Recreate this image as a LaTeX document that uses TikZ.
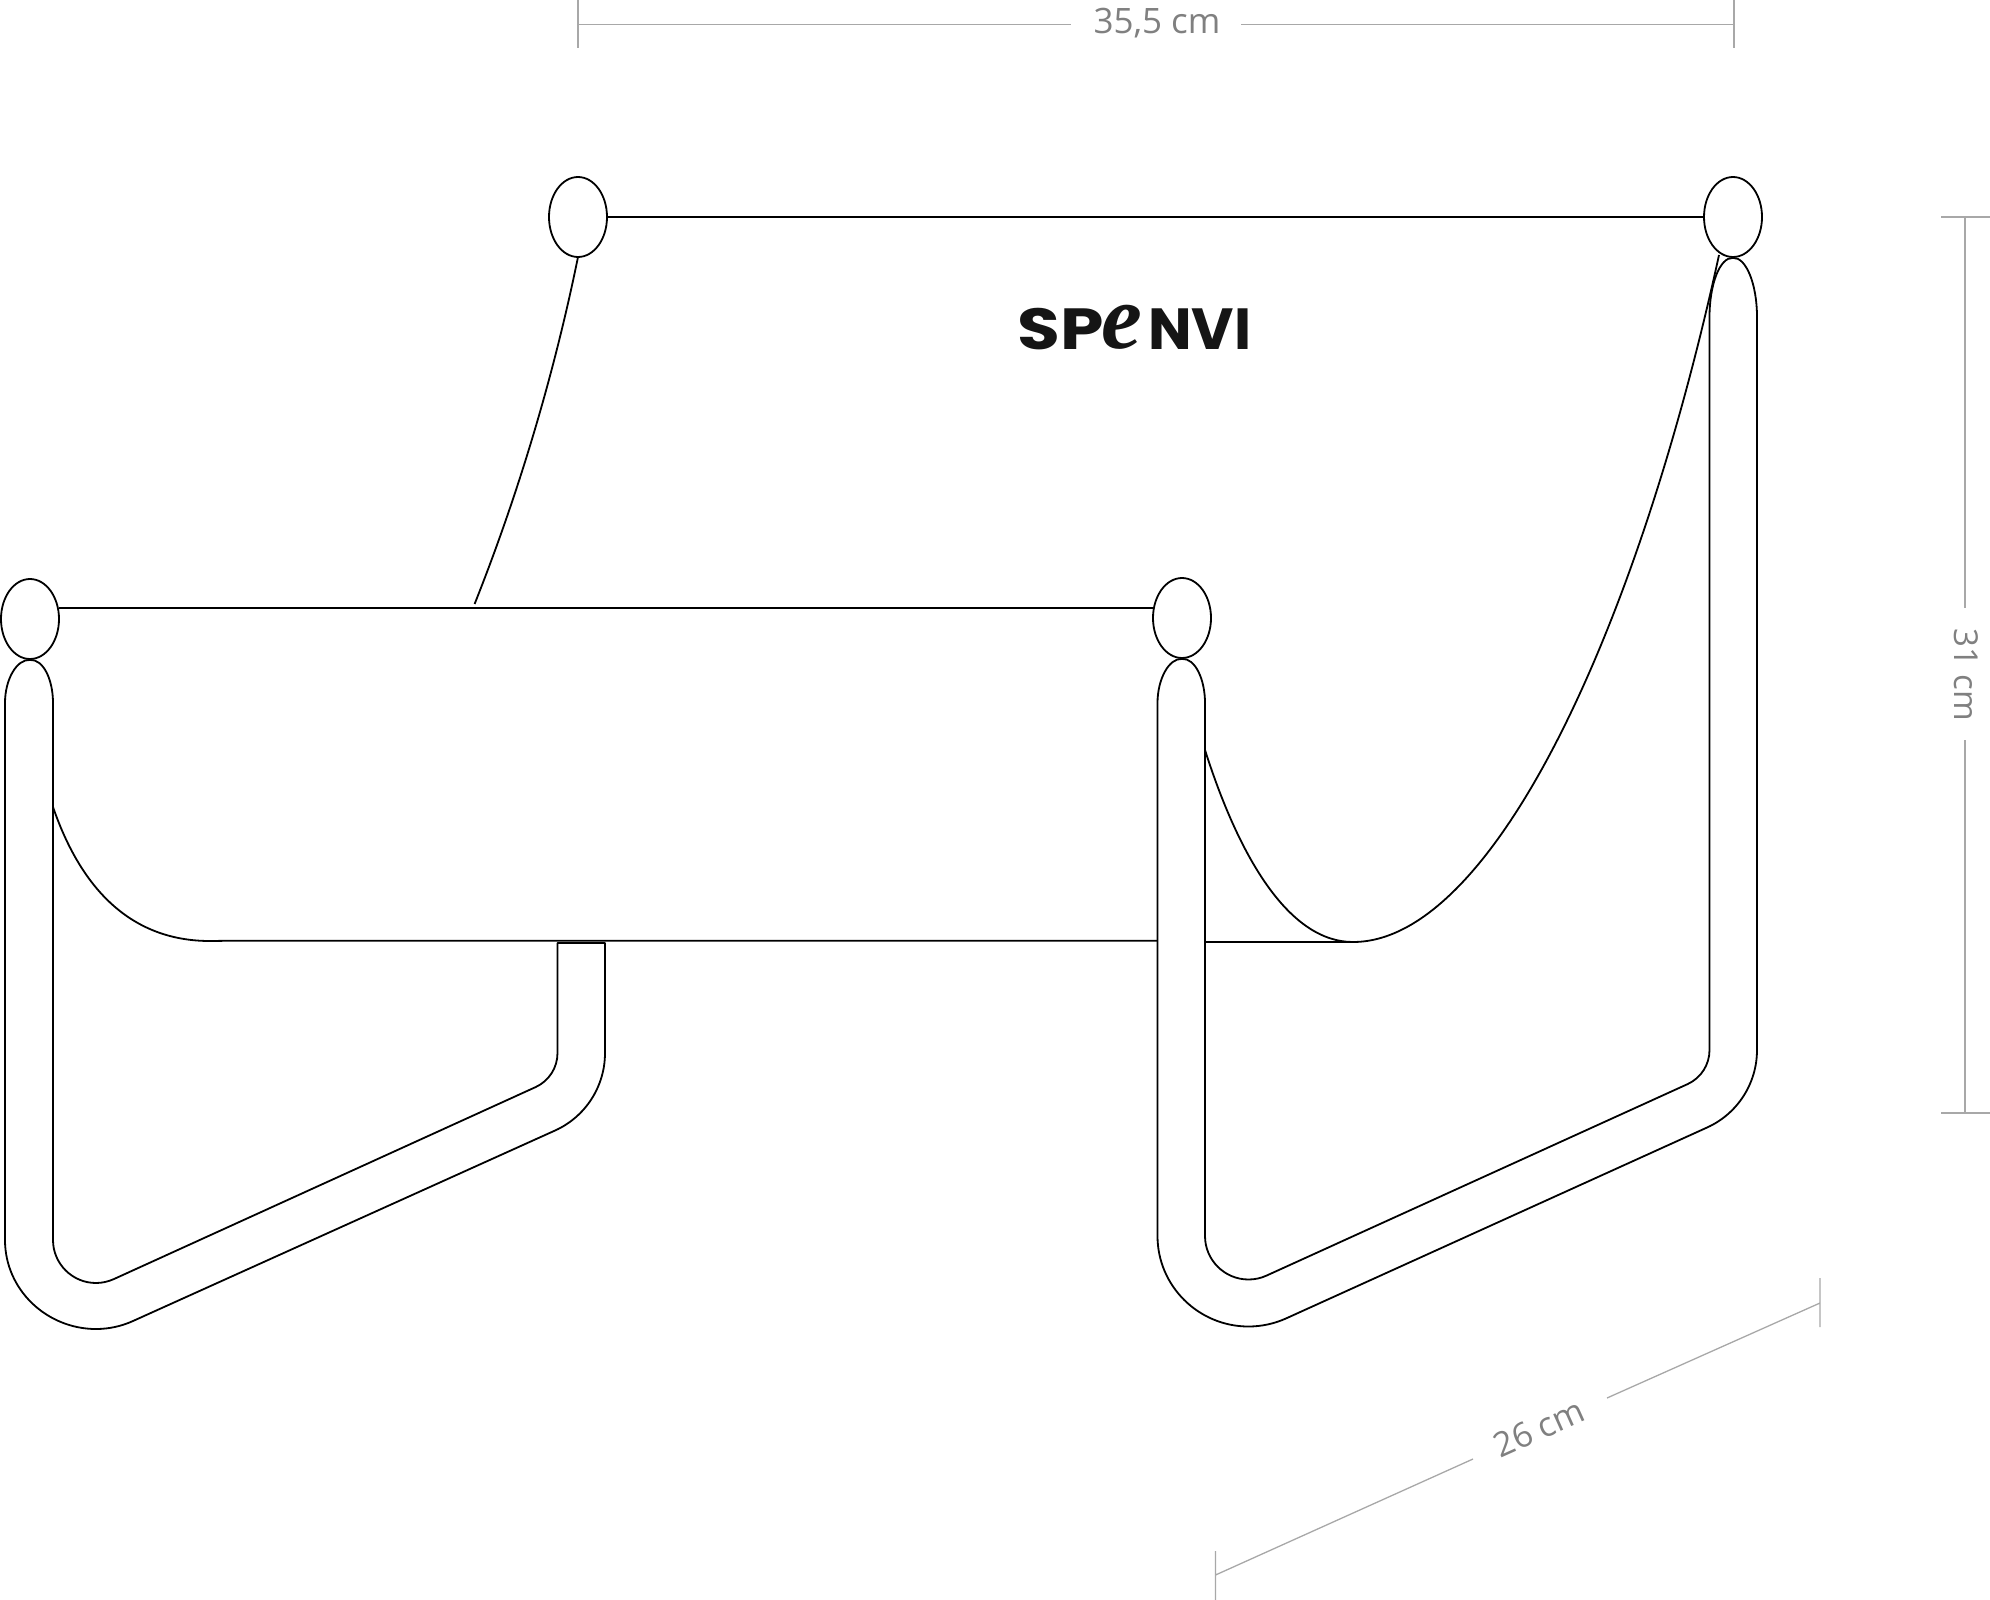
\documentclass[tikz,border=0pt]{standalone}
\usepackage{fontspec}
\setmainfont{Open Sans}
\newfontfamily\logofont{Poppins}
\newfontfamily\logoe{Liberation Serif}
\definecolor{dimgrey}{HTML}{808080}
\definecolor{dimline}{HTML}{A8A8A8}
\definecolor{logoink}{HTML}{151515}
\tikzset{
  knob/.style={draw=black,ellipse,minimum width=58,minimum height=80,inner sep=0,line width=1.8},
  tube/.style={draw=black,line width=1.8,line join=round},
  dimrule/.style={draw=dimline,line width=1.3},
  dimtext/.style={text=dimgrey,inner sep=0},
  logotext/.style={text=logoink,inner sep=0,anchor=base west,font=\logofont\bfseries\fontsize{58}{60}\selectfont}
}
\usetikzlibrary{shapes.geometric}
\begin{document}
\begin{tikzpicture}[x=1pt,y=-1pt]
\useasboundingbox (0,0) rectangle (1990,1600);
% knobs
\node[knob] (kbl) at (578,217) {};
\node[knob] (kbr) at (1733,217) {};
\node[knob] (kfl) at (30,619) {};
\node[knob] (kfr) at (1182,618) {};
% rods
\draw[tube] (kbl.east) -- (kbr.west);
\coordinate (rodfl) at (58.5,607.7);
\coordinate (rodfr) at (1153.5,607.7);
\draw[tube] (rodfl) -- (rodfr);
% front left leg
\draw[tube] (kfl.south) .. controls (17,659) and (5,679) .. (5,703) -- (5,1240)
  .. controls (5,1290) and (47,1329) .. (96,1329)
  .. controls (108.8,1329) and (121.3,1326.3) .. (133,1321) -- (555.3,1130.4)
  .. controls (585.6,1116.6) and (605,1086.3) .. (605,1053) -- (605,943) -- (557.5,943) -- (557.5,1053)
  .. controls (557.5,1067.7) and (549,1081) .. (535.6,1087.1) -- (113.8,1279.1)
  .. controls (108.2,1281.6) and (102.1,1283) .. (96,1283)
  .. controls (72.3,1283) and (53,1263.7) .. (53,1240) -- (53,703)
  .. controls (53,679) and (43,659) .. (kfl.south);
% right front leg
\draw[tube] (kfr.south) .. controls (1169,658) and (1157.5,679) .. (1157.5,703) -- (1157.5,1236)
  .. controls (1157.5,1286) and (1198.5,1326.5) .. (1248.5,1326.5)
  .. controls (1261.4,1326.5) and (1274.4,1323.7) .. (1286.1,1318.4) -- (1707.3,1127.4)
  .. controls (1737.6,1113.6) and (1757,1083.3) .. (1757,1050) -- (1757,317)
  .. controls (1757,284) and (1746,257) .. (kbr.south)
  .. controls (1720,257) and (1709.5,284) .. (1709.5,317) -- (1709.5,1050)
  .. controls (1709.5,1064.7) and (1701,1078) .. (1687.6,1084.1) -- (1266.5,1275.6)
  .. controls (1260.9,1278.2) and (1254.7,1279.5) .. (1248.5,1279.5)
  .. controls (1224.5,1279.5) and (1205,1260) .. (1205,1236) -- (1205,703)
  .. controls (1205,679) and (1195,658) .. (kfr.south);
% seat
\coordinate (sa) at (53,807);
\coordinate (sb) at (210,941);
\coordinate (sc) at (233,940.7);
\coordinate (sd) at (1157.5,940.7);
\draw[tube] (sa) .. controls (85,900) and (140,941) .. (sb) -- (sc) -- (sd);
\coordinate (se) at (1205,750);
\coordinate (sf) at (1353,942);
\coordinate (sg) at (1205,942);
\coordinate (sh) at (1719,255);
\draw[tube] (se) .. controls (1240,860) and (1290,942) .. (sf) -- (sg);
\draw[tube] (sf) .. controls (1490,942) and (1635,640) .. (sh);
\coordinate (ba) at (578,257);
\coordinate (bb) at (474.6,604);
\draw[tube] (ba) .. controls (555,370) and (520,490) .. (bb);
% logo
\node[logotext,xscale=1.2] (logosp) at (1017,349) {SP};
\node[text=logoink,inner sep=0,anchor=base,font=\logoe\bfseries\itshape\fontsize{92}{92}\selectfont] (logoe) at (1122,348) {e};
\node[logotext] (logonvi) at (1148,349) {NVI};
% dim top
\node[dimtext,font=\fontsize{35}{38}\selectfont] (dt) at (1157,23.5) {35,5 cm};
\coordinate (dta) at (578,24.3); \coordinate (dtb) at (1734,24.3);
\coordinate (dta1) at (578,0); \coordinate (dta2) at (578,48);
\coordinate (dtb1) at (1734,0); \coordinate (dtb2) at (1734,48);
\coordinate (dtc) at (1071,24.3); \coordinate (dtd) at (1241,24.3);
\draw[dimrule] (dta) -- (dtc) (dtd) -- (dtb) (dta1) -- (dta2) (dtb1) -- (dtb2);
% dim right
\node[dimtext,rotate=-90,font=\fontsize{33}{36}\selectfont] (dr) at (1966,675) {31 cm};
\coordinate (dra) at (1965,217); \coordinate (drb) at (1965,1113);
\coordinate (dra1) at (1941,217); \coordinate (dra2) at (1990,217);
\coordinate (drb1) at (1941,1113); \coordinate (drb2) at (1990,1113);
\coordinate (drc) at (1965,608); \coordinate (drd) at (1965,740);
\draw[dimrule] (dra) -- (drc) (drd) -- (drb) (dra1) -- (dra2) (drb1) -- (drb2);
% dim diagonal
\node[dimtext,rotate=24.2,font=\fontsize{34}{37}\selectfont] (dd) at (1539,1428) {26 cm};
\coordinate (dda) at (1215.5,1575); \coordinate (ddb) at (1473,1459);
\coordinate (ddc) at (1607,1398); \coordinate (ddd) at (1820,1303);
\coordinate (dda1) at (1215.5,1551); \coordinate (dda2) at (1215.5,1600);
\coordinate (ddd1) at (1820,1278); \coordinate (ddd2) at (1820,1327);
\draw[dimrule] (dda) -- (ddb) (ddc) -- (ddd) (dda1) -- (dda2) (ddd1) -- (ddd2);
\end{tikzpicture}
\end{document}
